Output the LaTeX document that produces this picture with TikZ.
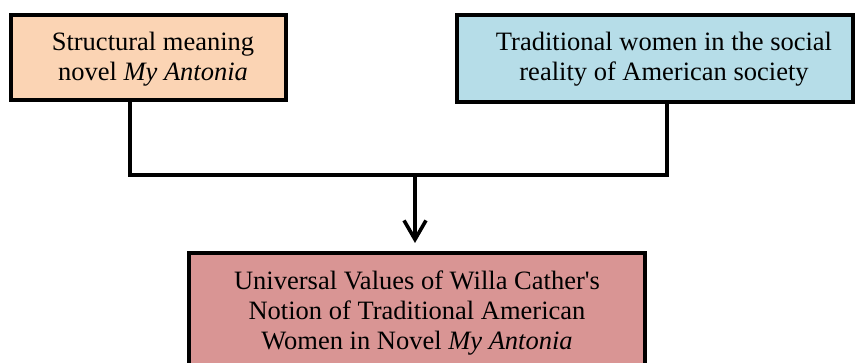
\documentclass[tikz,border=0pt]{standalone}
\usepackage{fontspec}
\setmainfont{Liberation Serif}
\newfontfamily\tnr{Liberation Serif}
\usetikzlibrary{arrows.meta}
\definecolor{peach}{HTML}{FBD4B4}
\definecolor{lblue}{HTML}{B6DDE8}
\definecolor{rose}{HTML}{D99594}
\begin{document}
\begin{tikzpicture}[x=1pt,y=-1pt,
  boxnode/.style={draw=black, line width=4pt, rectangle, inner sep=0pt},
  txt/.style={align=center, font=\tnr\fontsize{26.5}{30}\selectfont, inner sep=0pt},
  conn/.style={draw=black, line width=3.6pt, line join=miter},
  >={Straight Barb[length=19pt,width=22pt,line width=3.6pt]}]
\useasboundingbox (0,0) rectangle (855,363);
% boxes
\node[boxnode, fill=peach, minimum width=275pt, minimum height=85pt] (left) at (148.5,57.5) {};
\node[boxnode, fill=lblue, minimum width=396pt, minimum height=87pt] (right) at (655,58.5) {};
\node[boxnode, fill=rose, minimum width=455.5pt, minimum height=140pt, anchor=north] (bottom) at (416.75,251) {};
% texts
\node[txt] (lefttext) at (153,59) {Structural meaning\\novel \textit{My Antonia}};
\node[txt] (righttext) at (664,59) {Traditional women in the social\\reality of American society};
\node[txt] (bottomtext) at (417,313) {Universal Values of Willa Cather\char39 s\\Notion of Traditional American\\Women in Novel \textit{My Antonia}};
% connectors
\coordinate (lj) at (130,175);
\coordinate (rj) at (667,175);
\coordinate (mj) at (415,175);
\draw[conn] (lj |- left.south) -- (lj) -- (rj) -- (rj |- right.south);
\draw[conn, ->, shorten >=8pt] (mj) -- (mj |- bottom.north);
\end{tikzpicture}
\end{document}
